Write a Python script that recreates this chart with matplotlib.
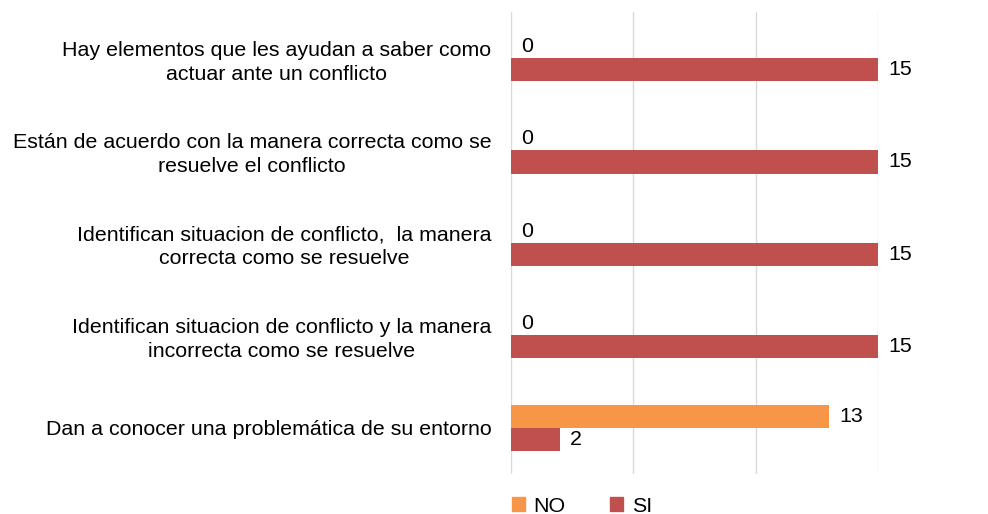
import numpy as np
import matplotlib.pyplot as plt
from matplotlib.patches import Patch

plt.rcParams['font.family'] = ['Liberation Sans', 'DejaVu Sans']

categorias = [
    "Hay elementos que les ayudan a saber como\nactuar ante un conflicto",
    "Están de acuerdo con la manera correcta como se\nresuelve el conflicto",
    "Identifican situacion de conflicto,  la manera\ncorrecta como se resuelve",
    "Identifican situacion de conflicto y la manera\nincorrecta como se resuelve",
    "Dan a conocer una problemática de su entorno",
]
no_vals = [0, 0, 0, 0, 13]
si_vals = [15, 15, 15, 15, 2]

c_no = '#f79646'
c_si = '#c0504d'
fs = 15.4

fig = plt.figure(figsize=(9.88, 5.14), dpi=100)
ax = fig.add_axes([0.517, 0.078, 0.372, 0.899])

y = np.arange(len(categorias))
h = 0.25
b1 = ax.barh(y - h / 2, no_vals, height=h, color=c_no)
b2 = ax.barh(y + h / 2, si_vals, height=h, color=c_si)

for bars, vals in ((b1, no_vals), (b2, si_vals)):
    for bar, v in zip(bars, vals):
        ax.annotate(str(v), (bar.get_width(), bar.get_y() + bar.get_height() / 2),
                    xytext=(7.5, 0), textcoords='offset points',
                    va='center', ha='left', fontsize=fs, color='#000000')

ax.set_xlim(0, 15)
ax.set_ylim(4.5, -0.5)
ax.set_xticks([0, 5, 10, 15])
ax.set_xticklabels([])
ax.tick_params(axis='x', length=0)
ax.tick_params(axis='y', length=0, pad=14)
ax.set_yticks(y)
ax.set_yticklabels(categorias, fontsize=fs, multialignment='center', linespacing=1.3)
ax.grid(axis='x', color='#d9d9d9', linewidth=1)
ax.set_axisbelow(True)
for s in ax.spines.values():
    s.set_visible(False)

handles = [Patch(color=c_no, label='NO'), Patch(color=c_si, label='SI')]
fig.legend(handles=handles, loc='center left', bbox_to_anchor=(0.518, 0.015), ncol=2,
           frameon=False, fontsize=fs, handlelength=0.6, handleheight=0.6,
           columnspacing=2.1, handletextpad=0.4, borderaxespad=0, borderpad=0)

fig.savefig('out.png', dpi=100)
